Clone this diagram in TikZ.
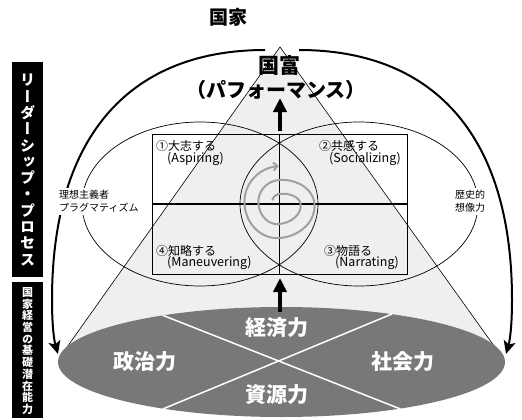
\documentclass[tikz,border=0pt]{standalone}
\usepackage{fontspec}
\setmainfont{Noto Sans CJK JP}
\newfontfamily\vfont{Noto Sans CJK JP}[RawFeature=+vert]
\usetikzlibrary{arrows.meta}
\definecolor{lightg}{HTML}{EFEFEF}
\definecolor{darkg}{HTML}{787878}
\definecolor{spiralg}{HTML}{A0A0A0}
\begin{document}
\begin{tikzpicture}[x=1pt,y=-1pt,
  thinline/.style={draw=black,line width=0.6pt},
  ellline/.style={draw=black,line width=0.7pt},
  crossline/.style={draw=black,line width=1.8pt},
  bigarrow/.style={line width=4pt,-{Triangle[length=14pt,width=13pt]}},
  curvearrow/.style={line width=2pt,-{Stealth[length=13pt,width=12pt,inset=3pt]}},
  quadj/.style={anchor=west,inner sep=0pt,font=\fontsize{12}{14}\selectfont},
  quadl/.style={anchor=west,inner sep=0pt,font=\fontsize{12.5}{14}\selectfont},
  sidelabel/.style={fill=white,inner sep=2pt,font=\fontsize{10}{13}\selectfont},
  baselabel/.style={text=white,inner sep=0pt,font=\fontsize{21}{24}\selectfont\bfseries},
  blackbar/.style={fill=black},
]
\useasboundingbox (0,0) rectangle (522,420);

% cone (triangle)
\coordinate (apex) at (280,47);
\coordinate (bl) at (60,357);
\coordinate (br) at (502,357);
\fill[lightg] (apex) -- (bl) -- (br) -- cycle;
\draw[thinline] (bl) -- (apex) -- (br);

% two ellipses
\draw[ellline] (200,204) ellipse [x radius=118, y radius=82];
\draw[ellline] (359,204) ellipse [x radius=119, y radius=82];

% box with cross
\node (box) [draw=black,line width=0.7pt,minimum width=255pt,minimum height=140pt,inner sep=0pt] at (279.5,204) {};
\draw[crossline] (box.north) -- (box.south);
\draw[crossline] (box.west) -- (box.east);

% spiral
\draw[spiralg,line width=2pt,-{Straight Barb[length=4pt,width=8pt]}]
  plot[domain=-0.17:2,samples=160,smooth]
  ({279+(10+14*\x)*sin(360*\x)+8*max(0,sin(360*\x))},{204-(10+14*\x)*cos(360*\x)+3*max(0,-cos(360*\x))});

% quadrant labels
\node (q1a) [quadj] at (156,146) {①大志する};
\node (q1b) [quadl] at (167,159) {(Aspiring)};
\node (q2a) [quadj] at (319,146) {②共感する};
\node (q2b) [quadl] at (329,159) {(Socializing)};
\node (q4a) [quadj] at (156,251) {④知略する};
\node (q4b) [quadl] at (167,263) {(Maneuvering)};
\node (q3a) [quadj] at (324,251) {③物語る};
\node (q3b) [quadl] at (335,263) {(Narrating)};

% base ellipse
\fill[darkg] (281.5,362) ellipse [x radius=223.5, y radius=55];
\begin{scope}
  \clip (281.5,362) ellipse [x radius=223.5, y radius=55];
  \coordinate (w1) at (162,315);
  \coordinate (w2) at (403,410);
  \coordinate (w3) at (392,314);
  \coordinate (w4) at (158,411);
  \draw[white,line width=1.5pt] (w1) -- (w2);
  \draw[white,line width=1.5pt] (w3) -- (w4);
\end{scope}
\node (keizai) [baselabel] at (276.5,328) {経済力};
\node (seiji) [baselabel] at (144.5,362) {政治力};
\node (shakai) [baselabel] at (402.5,362) {社会力};
\node (shigen) [baselabel] at (276.5,395) {資源力};

% titles
\node (kokka) [font=\fontsize{19}{22}\selectfont\bfseries,inner sep=0pt] at (228,17) {国家};
\node (kokufu) [font=\fontsize{21}{24}\selectfont\bfseries,inner sep=0pt] at (279,65) {国富};
\node (perf) [font=\fontsize{20}{22}\selectfont\bfseries,inner sep=0pt] at (276,90) {（パフォーマンス）};

% vertical arrows
\coordinate (upS) at (280,131);
\coordinate (upE) at (280,98);
\coordinate (dnS) at (280,312);
\coordinate (dnE) at (280,278);
\draw[bigarrow] (upS) -- (upE);
\draw[bigarrow] (dnS) -- (dnE);

% big curved arrows
\coordinate (lA) at (265,50);
\coordinate (lB) at (52,300);
\coordinate (lC) at (58,354);
\coordinate (rA) at (299,50);
\coordinate (rB) at (512,300);
\coordinate (rC) at (506,354);
\draw[curvearrow] (lA) .. controls (135,50) and (52,130) .. (lB) .. controls (52,325) and (54,340) .. (lC);
\draw[curvearrow] (rA) .. controls (429,50) and (512,130) .. (rB) .. controls (512,325) and (510,340) .. (rC);

% side labels
\node (ideal) [sidelabel,anchor=west,align=left] at (57,201.5) {理想主義者\\プラグマティズム};
\node (hist) [sidelabel,align=center] at (470,201.5) {歴史的\\想像力};

% left bars
\fill[blackbar] (12,62) rectangle (43,277);
\node (lead) [text=white,align=center,inner sep=0pt,font=\vfont\bfseries\fontsize{15}{16.3}\selectfont] at (27.5,170) {リ\\ー\\ダ\\ー\\シ\\ッ\\プ\\・\\プ\\ロ\\セ\\ス};
\fill[blackbar] (12,282) rectangle (43,418);
\node (found) [text=white,align=center,inner sep=0pt,font=\vfont\bfseries\fontsize{11}{11.7}\selectfont] at (27.5,351) {国\\家\\経\\営\\の\\基\\礎\\潜\\在\\能\\力};
\end{tikzpicture}
\end{document}
